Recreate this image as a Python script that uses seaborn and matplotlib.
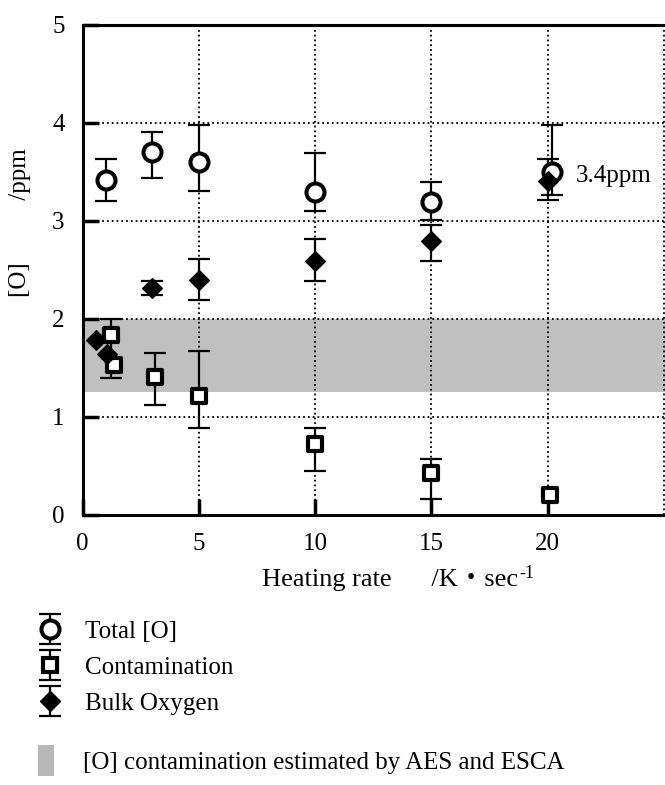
import numpy as np
import pandas as pd
import matplotlib
matplotlib.use("Agg")
import matplotlib.pyplot as plt
import seaborn as sns
from matplotlib.lines import Line2D
from matplotlib.patches import Patch
from matplotlib.container import ErrorbarContainer
from matplotlib.legend_handler import HandlerErrorbar

# ---------------- data ----------------
total_x = [1.0, 3.0, 5.0, 10.0, 15.0, 20.2]
total_y = [3.42, 3.70, 3.60, 3.29, 3.19, 3.50]
total_err_lo = [0.22, 0.26, 0.30, 0.19, 0.18, 0.24]
total_err_hi = [0.21, 0.21, 0.38, 0.40, 0.21, 0.48]

cont_x = [1.2, 1.35, 3.1, 5.0, 10.0, 15.0, 20.1]
cont_y = [1.83, 1.53, 1.41, 1.21, 0.72, 0.43, 0.20]
cont_err_lo = [0.43, 0.0, 0.29, 0.32, 0.27, 0.27, 0.0]
cont_err_hi = [0.17, 0.0, 0.24, 0.46, 0.17, 0.14, 0.0]

bulk_x = [0.55, 1.05, 3.0, 5.0, 10.0, 15.0, 20.0]
bulk_y = [1.78, 1.64, 2.31, 2.40, 2.59, 2.79, 3.41]
bulk_err_lo = [0.0, 0.0, 0.07, 0.21, 0.21, 0.20, 0.20]
bulk_err_hi = [0.0, 0.0, 0.07, 0.21, 0.22, 0.17, 0.22]

band_lo, band_hi = 1.25, 2.0

x_ticks = [0, 5, 10, 15, 20]
x_ticklabels = ["0", "5", "10", "15", "20"]
x_extra_grid = [25]
y_ticks = [0, 1, 2, 3, 4, 5]

series_labels = ["Total [O]", "Contamination", "Bulk Oxygen"]
band_label = "[O] contamination estimated by AES and ESCA"
annot_text = "3.4ppm"
annot_x, annot_y = 21.2, 3.46

# ---------------- style ----------------
sns.set_theme(style="white")
plt.rcParams["font.family"] = ["Liberation Serif", "Noto Sans CJK JP", "DejaVu Sans"]
plt.rcParams["axes.unicode_minus"] = False
for k in ["text.color", "axes.labelcolor", "xtick.color", "ytick.color",
          "axes.edgecolor"]:
    plt.rcParams[k] = "black"

fig = plt.figure(figsize=(6.65, 7.85), dpi=100)
ax = fig.add_axes([0.1244, 0.3443, 0.8756, 0.6242])

# band
ax.axhspan(band_lo, band_hi, color="#c0c0c0", lw=0, zorder=0.3)

styles = {
    "Total [O]": dict(marker="o", fc="white", ms=13, mew=2.9),
    "Contamination": dict(marker="s", fc="white", ms=10, mew=3.0),
    "Bulk Oxygen": dict(marker="D", fc="black", ms=10, mew=1.0),
}
series = [
    ("Total [O]", total_x, total_y, total_err_lo, total_err_hi),
    ("Contamination", cont_x, cont_y, cont_err_lo, cont_err_hi),
    ("Bulk Oxygen", bulk_x, bulk_y, bulk_err_lo, bulk_err_hi),
]

handles = []
for name, xs, ys, lo, hi in series:
    xs = np.asarray(xs); ys = np.asarray(ys)
    lo = np.asarray(lo); hi = np.asarray(hi)
    m = (lo + hi) > 0
    eb = ax.errorbar(xs[m], ys[m], yerr=[lo[m], hi[m]], fmt="none",
                     ecolor="black", elinewidth=1.6, capsize=8, capthick=1.6,
                     zorder=2)
    st = styles[name]
    df = pd.DataFrame({"x": xs, "y": ys})
    sns.scatterplot(data=df, x="x", y="y", ax=ax, marker=st["marker"],
                    color=st["fc"], edgecolor="black", linewidth=st["mew"],
                    s=st["ms"] ** 2, zorder=3, legend=False)
    mk = Line2D([], [], marker=st["marker"], ls="none", mfc=st["fc"],
                mec="black", ms=st["ms"], mew=st["mew"])
    cont = ErrorbarContainer((mk, eb[1], eb[2]), has_xerr=False,
                             has_yerr=True, label=name)
    handles.append(cont)

ax.text(annot_x, annot_y, annot_text, fontsize=18, ha="left", va="center",
        bbox=dict(fc="white", ec="none", pad=2), zorder=4)

# axes
ax.set_xlim(0, 25.05)
ax.set_ylim(0, 5)
ax.set_xticks(x_ticks)
ax.set_xticklabels(x_ticklabels)
ax.set_xticks(x_extra_grid, minor=True)
ax.set_yticks(y_ticks)
ax.grid(True, which="both", linestyle=":", color="black", linewidth=1.3,
        zorder=0.5)
ax.set_axisbelow(True)
ax.tick_params(direction="in", length=11.5, width=2.5, pad=13, labelsize=18,
               colors="black", bottom=True, left=True, top=False, right=False)
ax.tick_params(which="minor", length=0, width=0)
for side in ["left", "bottom", "top"]:
    ax.spines[side].set_linewidth(2.2)
    ax.spines[side].set_color("black")
ax.spines["right"].set_visible(False)
ax.set_facecolor("white")

ax.set_xlabel("Heating rate      /K\u30fbsec", fontsize=19, color="black")
ax.xaxis.set_label_coords(0.527, -0.133)
ax.xaxis.label.set_va("center")
ax.annotate("-1", xy=(1, 1), xycoords=ax.xaxis.label, xytext=(1, -3),
            textcoords="offset points", ha="left", va="center", fontsize=13)

ax.set_ylabel("[O]          /ppm", fontsize=18, color="black")
ax.yaxis.set_label_coords(-0.108, 0.597)
ax.yaxis.label.set_va("center")

# legends
leg1 = fig.legend(handles=handles, labels=series_labels, loc="upper left",
                  bbox_to_anchor=(0.0564, 0.2094), frameon=False, fontsize=18,
                  handlelength=1.0, handletextpad=0.9, labelspacing=0.53,
                  borderpad=0, borderaxespad=0, numpoints=1, labelcolor="black",
                  handler_map={ErrorbarContainer: HandlerErrorbar(xerr_size=0.6)})
leg2 = fig.legend(handles=[Patch(fc="#b8b8b8", ec="none")], labels=[band_label],
                  loc="upper left", bbox_to_anchor=(0.057, 0.051),
                  frameon=False, fontsize=18, handlelength=0.64,
                  handleheight=1.52, handletextpad=1.16, borderpad=0,
                  borderaxespad=0, labelcolor="black")

fig.savefig("out.png", dpi=100, facecolor="white")
